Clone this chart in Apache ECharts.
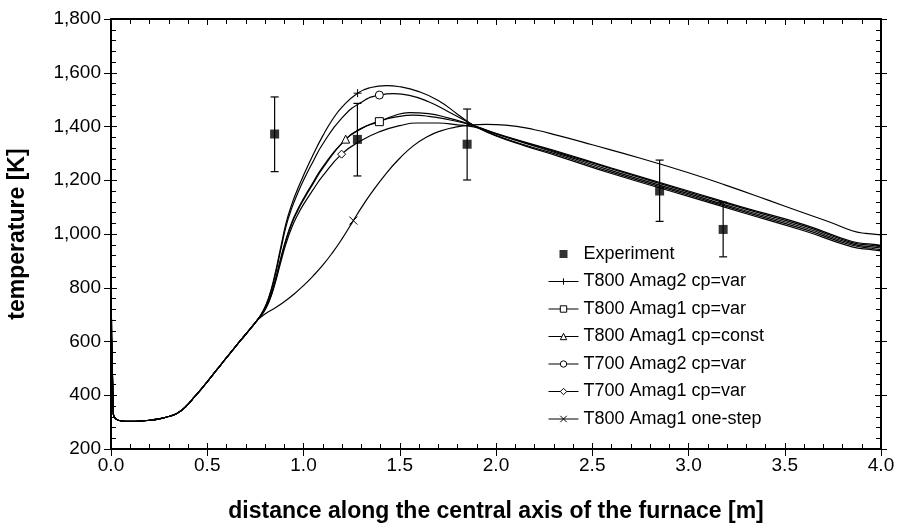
<!DOCTYPE html>
<html><head><meta charset="utf-8">
<script src="https://cdn.jsdelivr.net/npm/echarts@6/dist/echarts.min.js"></script>
<style>html,body{margin:0;padding:0;background:#fff}#c{width:897px;height:532px}</style>
</head><body><div id="c"></div>
<script>
// ---- axis settings ----
const xMin = 0, xMax = 4, xStep = 0.5;
const yMin = 200, yMax = 1800, yStep = 200;
const xTitle = 'distance along the central axis of the furnace [m]';
const yTitle = 'temperature [K]';

// ---- experiment ----
const expX    = [0.85, 1.28, 1.85, 2.85, 3.18];
const expT    = [1372, 1352, 1334, 1160, 1017];
const expLow  = [1232, 1216, 1201, 1047, 915];
const expHigh = [1510, 1486, 1465, 1275, 1118];

// ---- shared inlet part of all curves ----
const inlet = [[0,910],[0.012,330],[0.025,312],[0.05,305],[0.1,303],[0.15,304],[0.2,307],[0.25,312],[0.3,321],[0.33,328],[0.35,336],[0.37,346],[0.39,359],[0.41,374],[0.43,391],[0.46,415],[0.5,450],[0.55,495],[0.6,540],[0.65,584],[0.7,627],[0.757,677]];

// ---- simulated curves ----
const t800a2var = [[0.79,714],[0.82,765],[0.85,845],[0.88,945],[0.91,1042],[0.94,1112],[0.97,1168],[1.0,1218],[1.05,1295],[1.1,1365],[1.15,1425],[1.2,1472],[1.281,1524],[1.35,1545],[1.43,1552],[1.5,1548],[1.6,1530],[1.7,1497],[1.8,1446],[1.85,1420],[1.9,1398],[2.0,1365],[2.15,1328],[2.33,1288],[2.6,1225],[3.0,1140],[3.27,1082],[3.6,1012],[3.85,952],[3.95,942],[4.0,937]];
const t800a1var = [[0.79,708],[0.82,752],[0.85,820],[0.88,905],[0.91,983],[0.94,1045],[0.97,1092],[1.0,1132],[1.05,1192],[1.1,1250],[1.2,1338],[1.3,1392],[1.394,1418],[1.47,1440],[1.55,1452],[1.65,1448],[1.75,1432],[1.85,1412],[1.9,1400],[2.0,1375],[2.15,1342],[2.33,1305],[2.6,1245],[3.0,1160],[3.27,1102],[3.6,1035],[3.85,972],[3.95,962],[4.0,958]];
const t800a1const = [[0.79,708],[0.82,750],[0.85,816],[0.88,900],[0.91,978],[0.94,1040],[0.97,1087],[1.0,1127],[1.05,1187],[1.1,1245],[1.219,1353],[1.3,1393],[1.4,1422],[1.5,1438],[1.57,1442],[1.65,1438],[1.75,1426],[1.85,1410],[1.9,1399],[2.0,1373],[2.15,1340],[2.33,1302],[2.6,1242],[3.0,1156],[3.27,1098],[3.6,1030],[3.85,968],[3.95,958],[4.0,953]];
const t700a2var = [[0.79,712],[0.82,762],[0.85,838],[0.88,935],[0.91,1030],[0.94,1098],[0.97,1152],[1.0,1200],[1.05,1270],[1.1,1335],[1.2,1432],[1.3,1490],[1.394,1517],[1.47,1522],[1.55,1516],[1.65,1492],[1.75,1456],[1.85,1418],[1.9,1398],[2.0,1367],[2.15,1331],[2.33,1293],[2.6,1230],[3.0,1145],[3.27,1087],[3.6,1018],[3.85,958],[3.95,947],[4.0,942]];
const t700a1var = [[0.79,706],[0.82,746],[0.85,810],[0.88,890],[0.91,966],[0.94,1026],[0.97,1072],[1.0,1110],[1.05,1165],[1.1,1216],[1.198,1297],[1.3,1348],[1.4,1382],[1.5,1403],[1.59,1413],[1.7,1413],[1.8,1406],[1.85,1402],[1.9,1396],[2.0,1372],[2.15,1338],[2.33,1298],[2.6,1236],[3.0,1150],[3.27,1092],[3.6,1024],[3.85,963],[3.95,952],[4.0,948]];
const t800onestep = [[0.8,702],[0.85,724],[0.9,748],[0.95,776],[1.0,808],[1.05,844],[1.1,884],[1.15,930],[1.2,982],[1.259,1050],[1.3,1097],[1.35,1150],[1.43,1226],[1.5,1282],[1.57,1328],[1.64,1361],[1.71,1383],[1.78,1396],[1.85,1404],[1.95,1408],[2.05,1405],[2.2,1388],[2.33,1365],[2.5,1332],[2.75,1282],[3.0,1228],[3.2,1180],[3.41,1127],[3.6,1078],[3.75,1040],[3.85,1012],[3.92,1002],[4.0,997]];

const curveNames = ['T800 Amag2 cp=var','T800 Amag1 cp=var','T800 Amag1 cp=const','T700 Amag2 cp=var','T700 Amag1 cp=var','T800 Amag1 one-step'];
const curveData  = [t800a2var, t800a1var, t800a1const, t700a2var, t700a1var, t800onestep];
const markerX    = [1.281, 1.394, 1.219, 1.394, 1.198, 1.259];
const markerSym  = ['path://M0,5L10,5M5,0L5,10','rect','triangle','circle','diamond','path://M0,0L10,10M0,10L10,0'];

const FONT = 'Arial, "Liberation Sans", Helvetica, sans-serif';

const chart = echarts.init(document.getElementById('c'), null, {renderer:'canvas'});

function tickStyle(){ return {color:'#000', width:1}; }
function axLine(show){ return {show:show, onZero:false, lineStyle:{color:'#000', width:2}}; }
function baseX(extra){ return Object.assign({type:'value', min:xMin, max:xMax, interval:xStep, gridIndex:0, splitLine:{show:false}}, extra); }
function baseY(extra){ return Object.assign({type:'value', min:yMin, max:yMax, interval:yStep, gridIndex:0, splitLine:{show:false}}, extra); }

const xAxes = [
  baseX({position:'bottom', axisLine:axLine(true),
    axisTick:{show:true, inside:true, length:6, lineStyle:tickStyle()},
    minorTick:{show:true, splitNumber:5, length:5, lineStyle:tickStyle()},
    axisLabel:{show:true, margin:7, fontSize:19, fontFamily:FONT, color:'#000', formatter:v=>v.toFixed(1)},
    name:xTitle, nameLocation:'middle', nameGap:51,
    nameTextStyle:{fontSize:23, fontWeight:'bold', fontFamily:FONT, color:'#000'}}),
  baseX({position:'bottom', axisLine:axLine(false), axisLabel:{show:false},
    axisTick:{show:true, inside:false, length:7, lineStyle:tickStyle()}, minorTick:{show:false}}),
  baseX({position:'top', axisLine:axLine(true), axisLabel:{show:false},
    axisTick:{show:true, inside:true, length:6, lineStyle:tickStyle()},
    minorTick:{show:true, splitNumber:5, length:5, lineStyle:tickStyle()}})
];
const yAxes = [
  baseY({position:'left', axisLine:axLine(true),
    axisTick:{show:true, inside:true, length:6, lineStyle:tickStyle()},
    minorTick:{show:true, splitNumber:5, length:5, lineStyle:tickStyle()},
    axisLabel:{show:true, margin:10, fontSize:19, fontFamily:FONT, color:'#000', formatter:v=>v.toLocaleString('en-US')},
    name:yTitle, nameLocation:'middle', nameGap:82, nameRotate:90,
    nameTextStyle:{fontSize:23, fontWeight:'bold', fontFamily:FONT, color:'#000'}}),
  baseY({position:'left', axisLine:axLine(false), axisLabel:{show:false},
    axisTick:{show:true, inside:false, length:7, lineStyle:tickStyle()}, minorTick:{show:false}}),
  baseY({position:'right', axisLine:axLine(true), axisLabel:{show:false},
    axisTick:{show:true, inside:true, length:6, lineStyle:tickStyle()},
    minorTick:{show:true, splitNumber:5, length:5, lineStyle:tickStyle()}}),
  baseY({position:'right', axisLine:axLine(false), axisLabel:{show:false},
    axisTick:{show:true, inside:false, length:6, lineStyle:tickStyle()}, minorTick:{show:false}})
];

const series = [];
curveNames.forEach((nm, i) => {
  const mx = markerX[i];
  series.push({
    type:'line', name:nm, xAxisIndex:0, yAxisIndex:0,
    data: inlet.concat(curveData[i]),
    smooth:0.5,
    showSymbol:true, symbol:markerSym[i],
    symbolSize:(val)=> Math.abs(val[0]-mx) < 1e-9 ? 8 : 0,
    lineStyle:{color:'#000', width:1.2},
    itemStyle:{color:'#fff', borderColor:'#000', borderWidth:1},
    emphasis:{disabled:true}, silent:true, z:3
  });
});
series.push({
  type:'custom', name:'errorbars', xAxisIndex:0, yAxisIndex:0, silent:true, z:4,
  data: expX.map((x,i)=>[x, expLow[i], expHigh[i]]),
  encode:{x:0, y:[1,2]},
  renderItem:(params, api)=>{
    const x = api.value(0);
    const lo = api.coord([x, api.value(1)]);
    const hi = api.coord([x, api.value(2)]);
    const w = 4;
    const st = {stroke:'#000', lineWidth:1.2};
    return {type:'group', children:[
      {type:'line', shape:{x1:lo[0], y1:lo[1], x2:hi[0], y2:hi[1]}, style:st},
      {type:'line', shape:{x1:lo[0]-w, y1:lo[1], x2:lo[0]+w, y2:lo[1]}, style:st},
      {type:'line', shape:{x1:hi[0]-w, y1:hi[1], x2:hi[0]+w, y2:hi[1]}, style:st}
    ]};
  }
});
series.push({
  type:'scatter', name:'Experiment', xAxisIndex:0, yAxisIndex:0,
  data: expX.map((x,i)=>[x, expT[i]]),
  symbol:'path://M0,0L10,0L10,10L0,10Z', symbolSize:9, symbolKeepAspect:true,
  itemStyle:{color:'#000'}, silent:true, z:5
});

chart.setOption({
  animation:false,
  backgroundColor:'#fff',
  grid:{left:111, right:16, top:19, bottom:83, containLabel:false, outerBoundsMode:'none'},
  xAxis:xAxes, yAxis:yAxes,
  legend:{
    orient:'vertical', left:543, top:240, padding:5, itemWidth:30, itemHeight:8, itemGap:9.5,
    selectedMode:false, symbolKeepAspect:true,
    textStyle:{fontSize:18, fontFamily:FONT, color:'#000', lineHeight:18},
    itemStyle:{borderWidth:1}, lineStyle:{width:1},
    data:['Experiment'].concat(curveNames)
  },
  tooltip:{show:false},
  series:series
});
</script>
</body></html>
